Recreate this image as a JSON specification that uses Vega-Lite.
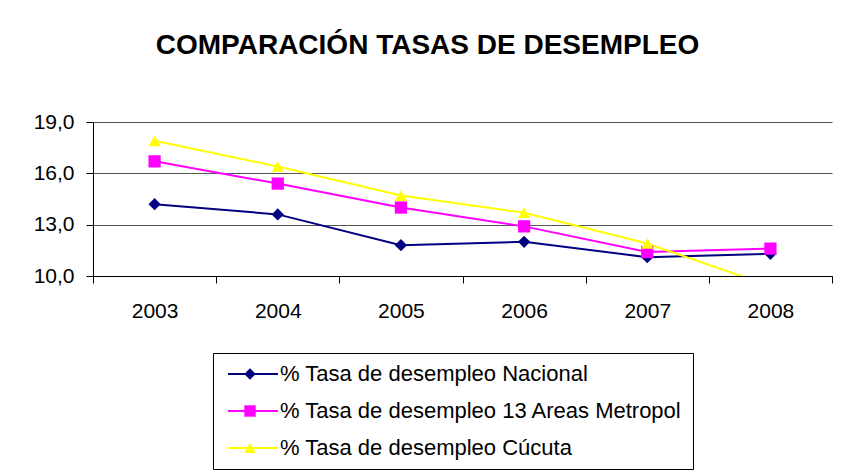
{
  "$schema": "https://vega.github.io/schema/vega-lite/v6.json",
  "autosize": "none",
  "width": 739,
  "height": 154,
  "padding": {"left": 93, "top": 122, "right": 17, "bottom": 198},
  "background": "white",
  "title": {
    "text": "COMPARACIÓN TASAS DE DESEMPLEO",
    "font": "Liberation Sans",
    "fontSize": 28,
    "fontWeight": "bold",
    "color": "black",
    "anchor": "middle",
    "dx": -35,
    "offset": 51
  },
  "data": {
    "values": [
      {"year": "2003", "serie": "% Tasa de desempleo Nacional", "valor": 14.2},
      {"year": "2004", "serie": "% Tasa de desempleo Nacional", "valor": 13.6},
      {"year": "2005", "serie": "% Tasa de desempleo Nacional", "valor": 11.8},
      {"year": "2006", "serie": "% Tasa de desempleo Nacional", "valor": 12.0},
      {"year": "2007", "serie": "% Tasa de desempleo Nacional", "valor": 11.1},
      {"year": "2008", "serie": "% Tasa de desempleo Nacional", "valor": 11.3},
      {"year": "2003", "serie": "% Tasa de desempleo 13 Areas Metropol", "valor": 16.7},
      {"year": "2004", "serie": "% Tasa de desempleo 13 Areas Metropol", "valor": 15.4},
      {"year": "2005", "serie": "% Tasa de desempleo 13 Areas Metropol", "valor": 14.0},
      {"year": "2006", "serie": "% Tasa de desempleo 13 Areas Metropol", "valor": 12.9},
      {"year": "2007", "serie": "% Tasa de desempleo 13 Areas Metropol", "valor": 11.4},
      {"year": "2008", "serie": "% Tasa de desempleo 13 Areas Metropol", "valor": 11.6},
      {"year": "2003", "serie": "% Tasa de desempleo Cúcuta", "valor": 17.9},
      {"year": "2004", "serie": "% Tasa de desempleo Cúcuta", "valor": 16.4},
      {"year": "2005", "serie": "% Tasa de desempleo Cúcuta", "valor": 14.7},
      {"year": "2006", "serie": "% Tasa de desempleo Cúcuta", "valor": 13.7},
      {"year": "2007", "serie": "% Tasa de desempleo Cúcuta", "valor": 11.9},
      {"year": "2008", "serie": "% Tasa de desempleo Cúcuta", "valor": 9.4}
    ]
  },
  "layer": [
    {
      "mark": {"type": "line", "strokeWidth": 2, "clip": true},
      "encoding": {
        "x": {
          "field": "year", "type": "ordinal",
          "scale": {"paddingInner": 0, "paddingOuter": 0},
          "axis": {
            "title": null, "labelAngle": 0, "tickBand": "extent",
            "labelFont": "Liberation Sans", "labelFontSize": 21, "labelColor": "black",
            "labelPadding": 17, "tickSize": 7, "tickColor": "black",
            "domainColor": "black", "grid": false
          }
        },
        "y": {
          "field": "valor", "type": "quantitative",
          "scale": {"domain": [10, 19], "nice": false, "zero": false},
          "axis": {
            "title": null, "values": [10, 13, 16, 19],
            "labelExpr": "replace(format(datum.value, '.1f'), '.', ',')",
            "labelFont": "Liberation Sans", "labelFontSize": 21, "labelColor": "black",
            "labelPadding": 12, "tickSize": 7, "tickColor": "black",
            "domainColor": "black", "grid": true, "gridColor": "#555555", "gridWidth": 1
          }
        },
        "stroke": {
          "field": "serie", "type": "nominal",
          "sort": ["% Tasa de desempleo Nacional", "% Tasa de desempleo 13 Areas Metropol", "% Tasa de desempleo Cúcuta"],
          "scale": {"range": ["#000080", "#FF00FF", "#FFFF00"]},
          "legend": {
            "orient": "none", "legendX": 120, "legendY": 231, "title": null,
            "symbolType": "M-5,0H5", "symbolSize": 100, "symbolStrokeWidth": 2,
            "symbolOffset": 19,
            "labelFont": "Liberation Sans", "labelFontSize": 22, "labelColor": "black",
            "labelOffset": 16, "padding": 10, "rowPadding": 15,
            "strokeColor": "black", "labelLimit": 600
          }
        }
      }
    },
    {
      "mark": {"type": "point", "filled": true, "size": 150, "opacity": 1, "clip": true},
      "encoding": {
        "x": {"field": "year", "type": "ordinal"},
        "y": {"field": "valor", "type": "quantitative"},
        "fill": {
          "field": "serie", "type": "nominal",
          "scale": {
            "domain": ["% Tasa de desempleo Nacional", "% Tasa de desempleo 13 Areas Metropol", "% Tasa de desempleo Cúcuta"],
            "range": ["#000080", "#FF00FF", "#FFFF00"]
          },
          "legend": {
            "orient": "none", "legendX": 136, "legendY": 231, "title": null,
            "symbolSize": 130, "symbolOpacity": 1,
            "labelFont": "Liberation Sans", "labelFontSize": 22, "labelExpr": "''",
            "labelOffset": 6, "padding": 10, "rowPadding": 15, "labelLimit": 600
          }
        },
        "shape": {
          "field": "serie", "type": "nominal",
          "scale": {
            "domain": ["% Tasa de desempleo Nacional", "% Tasa de desempleo 13 Areas Metropol", "% Tasa de desempleo Cúcuta"],
            "range": ["diamond", "square", "triangle-up"]
          },
          "legend": {
            "orient": "none", "legendX": 136, "legendY": 231, "title": null,
            "symbolSize": 130, "symbolOpacity": 1,
            "labelFont": "Liberation Sans", "labelFontSize": 22, "labelExpr": "''",
            "labelOffset": 6, "padding": 10, "rowPadding": 15, "labelLimit": 600
          }
        }
      }
    }
  ],
  "config": {
    "view": {"stroke": null},
    "axis": {"domainWidth": 1, "tickWidth": 1}
  }
}
